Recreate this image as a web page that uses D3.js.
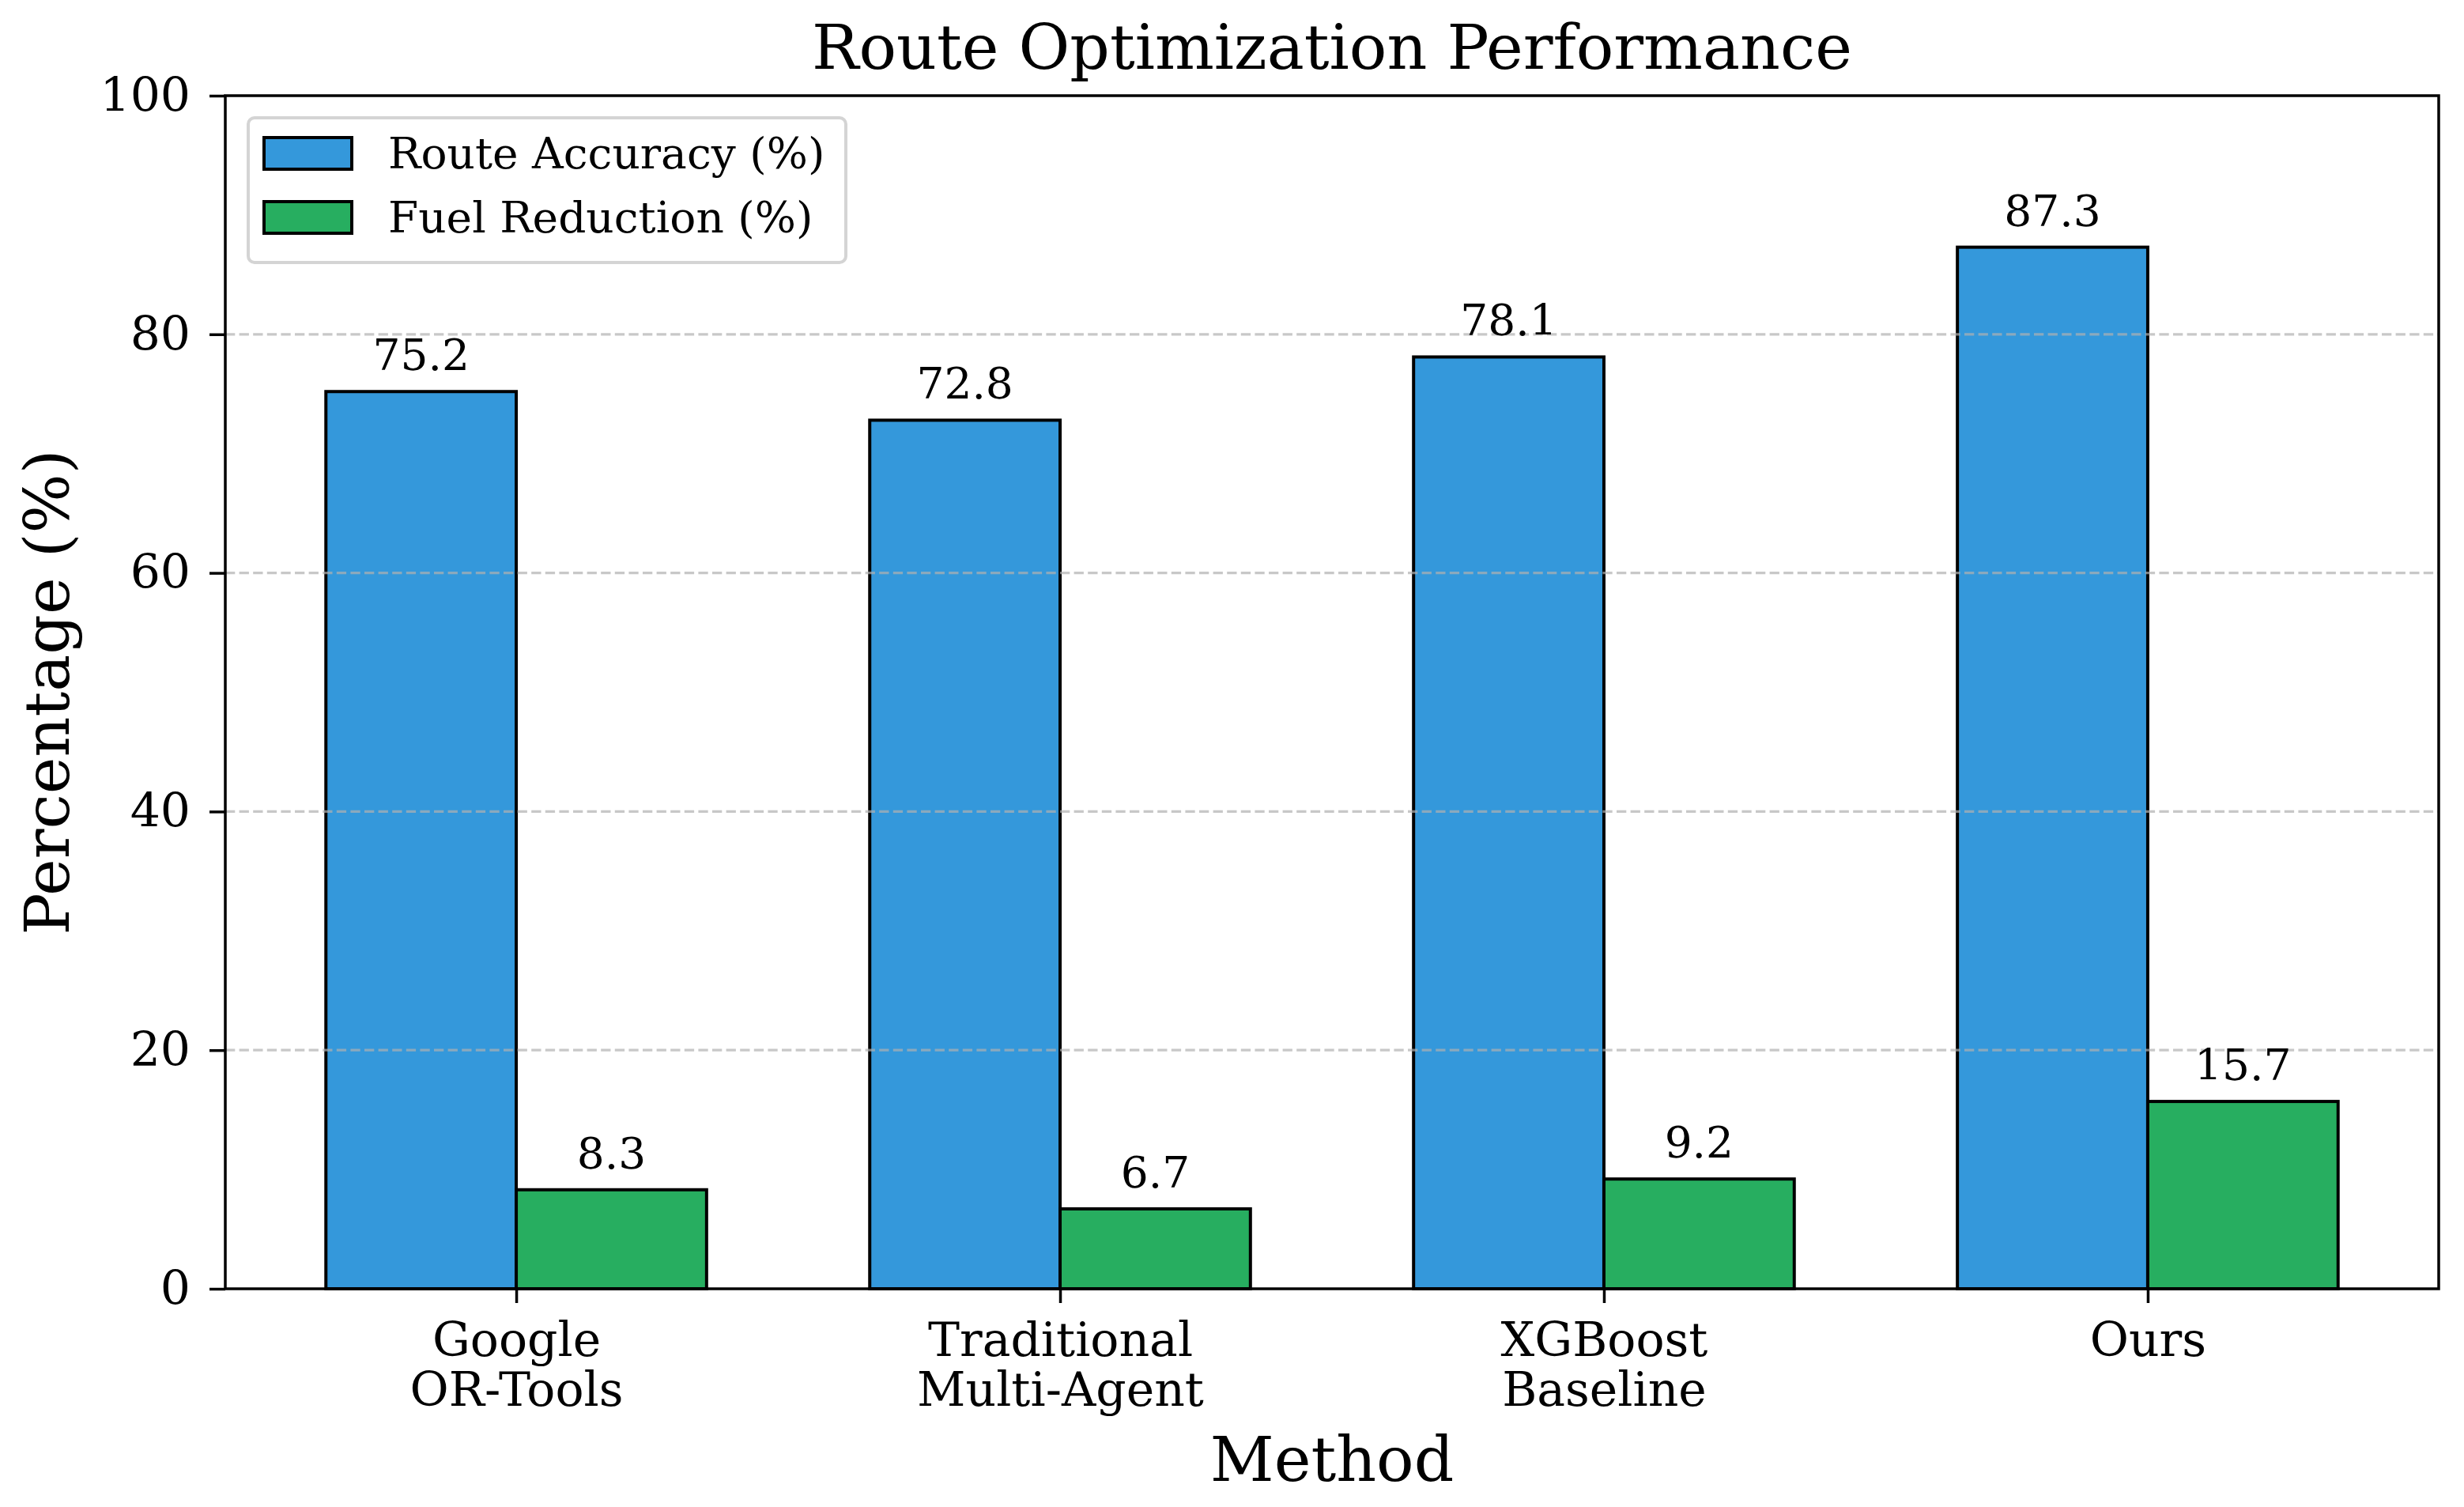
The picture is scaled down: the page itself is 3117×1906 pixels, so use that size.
<!DOCTYPE html>
<html>
<head>
<meta charset="utf-8">
<script src="https://cdn.jsdelivr.net/npm/d3@7"></script>
<style>
  html, body { margin: 0; padding: 0; background: #fff; }
  svg { display: block; font-family: "DejaVu Serif", serif; }
</style>
</head>
<body>
<svg id="chart" width="3117" height="1906"></svg>
<script>
// ---- data ----
const categories = ["Google\nOR-Tools", "Traditional\nMulti-Agent", "XGBoost\nBaseline", "Ours"];
const routeAccuracy = [75.2, 72.8, 78.1, 87.3];
const fuelReduction = [8.3, 6.7, 9.2, 15.7];
const seriesNames = ["Route Accuracy (%)", "Fuel Reduction (%)"];
const seriesColors = ["#3498db", "#27ae60"];
const yTicks = [0, 20, 40, 60, 80, 100];
const gridTicks = [20, 40, 60, 80];
const titleText = "Route Optimization Performance";
const xLabelText = "Method";
const yLabelText = "Percentage (%)";

// ---- layout ----
const L = 285, R = 3085, T = 121, B = 1630;
const barW = 0.35;
const svg = d3.select("#chart");

const x = d3.scaleLinear().domain([-0.535, categories.length - 1 + 0.535]).range([L, R]);
const y = d3.scaleLinear().domain([0, 100]).range([B, T]);

const series = [routeAccuracy, fuelReduction];

// bars
const gBars = svg.append("g");
series.forEach((vals, s) => {
  gBars.selectAll(null).data(vals).enter().append("rect")
    .attr("x", (d, i) => x(i + (s === 0 ? -barW : 0)))
    .attr("width", (d, i) => x(i + barW) - x(i))
    .attr("y", d => y(d))
    .attr("height", d => y(0) - y(d))
    .attr("fill", seriesColors[s])
    .attr("stroke", "#000")
    .attr("stroke-width", 4);
});

// grid (drawn above bars, like matplotlib default)
svg.append("g").selectAll("line").data(gridTicks).enter().append("line")
  .attr("x1", L).attr("x2", R)
  .attr("y1", d => y(d)).attr("y2", d => y(d))
  .attr("stroke", "#b0b0b0").attr("stroke-opacity", 0.7)
  .attr("stroke-width", 3.3)
  .attr("stroke-dasharray", "12.3,5.3");

// value labels
const gLab = svg.append("g").attr("font-size", 55).attr("text-anchor", "middle").attr("fill", "#000");
series.forEach((vals, s) => {
  gLab.selectAll(null).data(vals).enter().append("text")
    .attr("x", (d, i) => x(i + (s === 0 ? -barW / 2 : barW / 2)))
    .attr("y", d => y(d) - 27)
    .text(d => d.toFixed(1));
});

// y axis
const yAxis = svg.append("g").attr("transform", `translate(${L},0)`)
  .call(d3.axisLeft(y).tickValues(yTicks).tickSize(20).tickPadding(24).tickFormat(d3.format("d")));
yAxis.select(".domain").remove();
yAxis.selectAll(".tick line").attr("stroke", "#000").attr("stroke-width", 3.5);
yAxis.selectAll(".tick text").attr("font-size", 60).attr("font-family", "DejaVu Serif").attr("fill", "#000");

// x axis
const xAxis = svg.append("g").attr("transform", `translate(0,${B})`)
  .call(d3.axisBottom(x).tickValues(d3.range(categories.length)).tickSize(18).tickFormat(""));
xAxis.select(".domain").remove();
xAxis.selectAll(".tick line").attr("stroke", "#000").attr("stroke-width", 3.5);
xAxis.selectAll(".tick").each(function(d, i) {
  const t = d3.select(this).append("text")
    .attr("font-size", 60).attr("font-family", "DejaVu Serif")
    .attr("fill", "#000").attr("text-anchor", "middle");
  categories[i].split("\n").forEach((line, k) => {
    t.append("tspan").attr("x", 0).attr("y", 85 + k * 63).text(line);
  });
});

// spines
svg.append("rect").attr("x", L).attr("y", T).attr("width", R - L).attr("height", B - T)
  .attr("fill", "none").attr("stroke", "#000").attr("stroke-width", 3.5);

// title & axis labels
svg.append("text").attr("x", (L + R) / 2).attr("y", 87).attr("text-anchor", "middle")
  .attr("font-size", 79).text(titleText);
svg.append("text").attr("x", (L + R) / 2).attr("y", 1873).attr("text-anchor", "middle")
  .attr("font-size", 79).text(xLabelText);
svg.append("text").attr("transform", `translate(87,${(T + B) / 2}) rotate(-90)`)
  .attr("text-anchor", "middle").attr("font-size", 79).text(yLabelText);

// legend
const lg = svg.append("g");
lg.append("rect").attr("x", 314).attr("y", 149).attr("width", 756).attr("height", 183)
  .attr("rx", 8).attr("ry", 8)
  .attr("fill", "#fff").attr("fill-opacity", 0.8)
  .attr("stroke", "#d4d4d4").attr("stroke-width", 4);
seriesNames.forEach((name, s) => {
  const yy = 174 + s * 81;
  lg.append("rect").attr("x", 334).attr("y", yy).attr("width", 111).attr("height", 40)
    .attr("fill", seriesColors[s]).attr("stroke", "#000").attr("stroke-width", 4);
  lg.append("text").attr("x", 491).attr("y", yy + 39).attr("font-size", 55).attr("fill", "#000").text(name);
});
</script>
</body>
</html>
